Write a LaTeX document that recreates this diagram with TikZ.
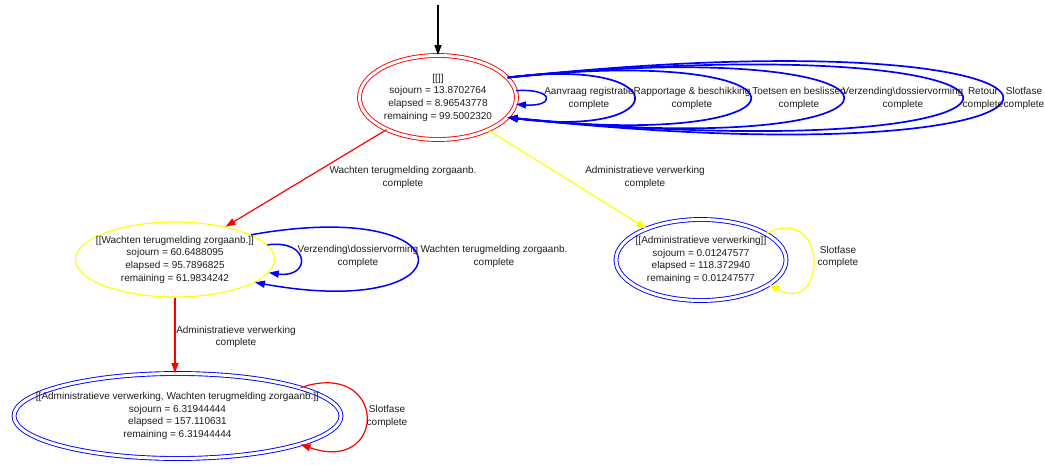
\documentclass[tikz,border=0pt]{standalone}
\usepackage{fontspec}
\setmainfont{Liberation Sans}
\usetikzlibrary{shapes.geometric,arrows.meta}
\definecolor{ink}{RGB}{30,30,30}
\definecolor{gvred}{RGB}{255,0,0}
\definecolor{gvblue}{RGB}{0,0,255}
\definecolor{gvyellow}{RGB}{255,255,0}

\begin{document}
\begin{tikzpicture}[x=1pt,y=-1pt,
  txt/.style={font=\fontsize{10}{12.7}\selectfont, align=center, text=ink, inner sep=0pt},
  dblstate/.style={ellipse, draw=#1, double=white, double distance=3pt, line width=0.9pt, inner sep=0pt},
  sglstate/.style={ellipse, draw=#1, line width=1.1pt, inner sep=0pt},
  tip/.style={-{Triangle[length=10pt,width=7pt]}},
  edge/.style={tip, draw=#1, line width=1.2pt},
  bigloop/.style={tip, draw=gvblue, line width=1.7pt},
]
\useasboundingbox[fill=white] (0,0) rectangle (1045,465);

% states
\node[dblstate=gvred, minimum width=157pt, minimum height=84pt] (s0) at (438,97.5) {};
\node[txt] (s0t) at (s0.center) {[[]]\\sojourn = 13.8702764\\elapsed = 8.96543778\\remaining = 99.5002320};

\node[sglstate=gvyellow, minimum width=199pt, minimum height=75pt] (s1) at (175,259.5) {};
\node[txt] (s1t) at (s1.center) {[[Wachten terugmelding zorgaanb.]]\\sojourn = 60.6488095\\elapsed = 95.7896825\\remaining = 61.9834242};

\node[dblstate=gvblue, minimum width=170pt, minimum height=81pt] (s2) at (701,260) {};
\node[txt] (s2t) at (s2.center) {[[Administratieve verwerking]]\\sojourn = 0.01247577\\elapsed = 118.372940\\remaining = 0.01247577};

\node[dblstate=gvblue, minimum width=327pt, minimum height=85pt] (s3) at (177.5,416) {};
\node[txt] (s3t) at (s3.center) {[[Administratieve verwerking, Wachten terugmelding zorgaanb.]]\\sojourn = 6.31944444\\elapsed = 157.110631\\remaining = 6.31944444};

% initial arrow
\coordinate (init) at (438,5);
\draw[tip, draw=black, line width=1.5pt] (init) -- (s0.north);

% transitions between states
\draw[edge=gvred] (s0.212) -- (s1.33);
\draw[edge=gvyellow] (s0.-33) -- (s2.150);
\draw[edge=gvred] (s1.south) -- (s1.south |- s3.north);

% self loops on the start state
\draw[bigloop, line width=1.5pt] (s0.5) .. controls (555,88) and (555,107) .. (s0.-5);
\draw[bigloop] (s0.16) .. controls (676,56) and (676,139) .. (s0.-16);
\draw[bigloop] (s0.16) .. controls (831,42.3) and (831,152.7) .. (s0.-16);
\draw[bigloop] (s0.16) .. controls (955,30.2) and (955,164.8) .. (s0.-16);
\draw[bigloop] (s0.16) .. controls (1113.5,19.8) and (1113.5,175.2) .. (s0.-16);
\draw[bigloop] (s0.16) .. controls (1167,7.6) and (1167,187.4) .. (s0.-16);

% self loops on the waiting state
\draw[edge=gvblue, line width=1.5pt] (s1.9) .. controls (311,239) and (311,278.6) .. (s1.-8);
\draw[edge=gvblue, line width=1.5pt] (s1.18) .. controls (472,195.5) and (472,321.7) .. (s1.-16);

% self loop on the processing state
\draw[edge=gvyellow] (s2.22) .. controls (828,201.7) and (828,316.7) .. (s2.-20);

% self loop on the combined state
\draw[edge=gvred] (s3.13) .. controls (388,358) and (388,475) .. (s3.-13.5);

% labels
\node[txt] (lAan) at (589,98.5) {Aanvraag registratie\\complete};
\node[txt] (lRap) at (692,98.5) {Rapportage \& beschikking\\complete};
\node[txt] (lToe) at (799,98.5) {Toetsen en beslissen\\complete};
\node[txt] (lVer) at (903,98.5) {Verzending\textbackslash dossiervorming\\complete};
\node[txt] (lRet) at (983,98.5) {Retour\\complete};
\node[txt] (lSlo) at (1024,98.5) {Slotfase\\complete};

\node[txt] (e01) at (403,177.5) {Wachten terugmelding zorgaanb.\\complete};
\node[txt] (e02) at (645,177.5) {Administratieve verwerking\\complete};
\node[txt] (e13) at (236,337) {Administratieve verwerking\\complete};

\node[txt] (l1a) at (358,256.5) {Verzending\textbackslash dossiervorming\\complete};
\node[txt] (l1b) at (494,256.5) {Wachten terugmelding zorgaanb.\\complete};
\node[txt] (l2) at (838,257) {Slotfase\\complete};
\node[txt] (l3) at (387,416.5) {Slotfase\\complete};
\end{tikzpicture}
\end{document}
